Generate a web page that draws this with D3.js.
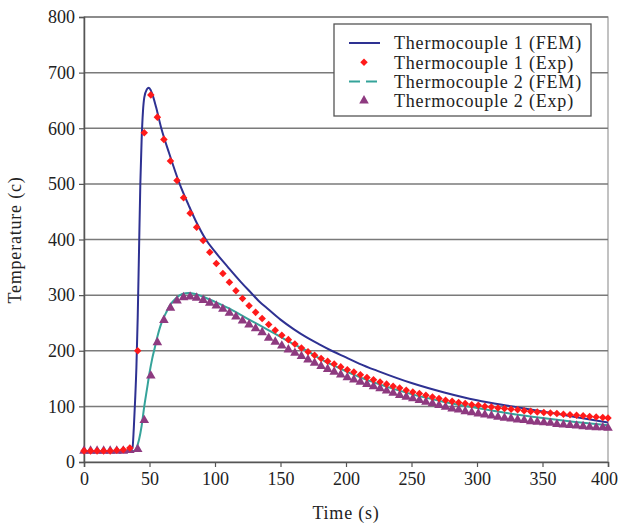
<!DOCTYPE html>
<html>
<head>
<meta charset="utf-8">
<script src="https://cdn.jsdelivr.net/npm/d3@7"></script>
<style>
  body { margin: 0; background: #fff; }
  text { font-family: "Liberation Serif", "Times New Roman", serif; fill: #222; }
</style>
</head>
<body>
<svg id="svg" width="618" height="527"></svg>
<script>
// thermocouple 1, FEM (time, temperature)
var tc1FemT = [0, 30, 35, 37, 38, 39, 40, 41, 42, 43, 44, 45, 46, 48, 49.5, 51, 53, 55, 59, 65, 73, 80, 86, 93, 100, 110, 120, 128, 134, 140, 150, 160, 170, 180, 189, 200, 210, 225, 250, 275, 300, 327, 350, 375, 400];
var tc1FemV = [20, 20, 21, 25, 60, 110, 170, 260, 380, 500, 580, 630, 655, 670, 673, 668, 655, 638, 600, 555, 500, 461, 430, 400, 378, 350, 323, 303, 288, 276, 256, 239, 224, 211, 200, 188, 177, 163, 142, 125, 111, 100, 91, 81, 71];

// thermocouple 2, FEM
var tc2FemT = [0, 38, 40, 42, 44, 46, 48, 50, 52, 54, 56, 58, 60, 63, 66, 70, 75, 80, 85, 90, 100, 110, 120, 130, 140, 150, 160, 170, 180, 190, 200, 210, 225, 250, 275, 300, 325, 350, 375, 400];
var tc2FemV = [20, 20, 25, 40, 65, 100, 130, 160, 185, 205, 225, 242, 255, 270, 283, 294, 302, 304, 302, 298, 288, 277, 264, 251, 238, 225, 212, 200, 186, 174, 163, 153, 140, 122, 108, 97, 87, 79, 72, 66];

// experiments, sampled every 5 s (first samples sit about 1 s after the round values)
var expT = [0, 5, 10, 15, 20, 25, 30, 35, 41, 46, 51, 56, 61, 66, 71, 76, 81, 86, 91, 96,
  101, 106, 111, 116, 121, 126, 131, 136, 141, 146, 151, 156, 161, 166, 171, 176, 181, 186, 191, 196,
  201, 206, 211, 216, 221, 226, 231, 236, 241, 246, 251, 256, 261, 266, 271, 276, 281, 286, 291, 296,
  301, 306, 311, 316, 321, 326, 331, 336, 341, 346, 351, 356, 361, 366, 371, 376, 381, 386, 391, 396, 400];
var tc1ExpV = [20, 20, 20, 20, 20, 21, 22, 25, 200, 592, 660, 620, 580, 541, 506, 475, 447, 422, 398, 377,
  357, 339, 323, 308, 294, 281, 269, 258, 247, 237, 228, 220, 212, 205, 198, 192, 186, 181, 176, 171,
  166, 162, 157, 152, 148, 144, 140, 136, 133, 129, 126, 123, 120, 117, 114, 111, 109, 107, 105, 103,
  102, 100, 99, 97, 96, 95, 94, 92, 91, 90, 89, 88, 87, 86, 85, 84, 83, 82, 81, 80, 79];
var tc2ExpV = [20, 20, 20, 20, 20, 20, 20, 21, 23, 75, 155, 215, 255, 277, 290, 296, 297, 295, 291, 286,
  281, 275, 268, 261, 254, 247, 240, 233, 223, 216, 209, 202, 196, 190, 184, 178, 172, 167, 162, 157,
  152, 148, 144, 140, 136, 132, 128, 124, 120, 117, 114, 111, 108, 105, 102, 99, 96, 94, 91, 89,
  87, 85, 83, 81, 79, 78, 76, 75, 73, 72, 71, 70, 68, 67, 66, 65, 64, 63, 62, 62, 61];

var xTicks = [0, 50, 100, 150, 200, 250, 300, 350, 400];
var yTicks = [0, 100, 200, 300, 400, 500, 600, 700, 800];
var legendNames = ["Thermocouple 1 (FEM)", "Thermocouple 1 (Exp)", "Thermocouple 2 (FEM)", "Thermocouple 2 (Exp)"];

var navy = "#2e3192", red = "#ff1a1a", teal = "#35a39a", plum = "#8e3a80";

var svg = d3.select("#svg");
var x = d3.scaleLinear().domain([0, 400]).range([84, 608]);
var y = d3.scaleLinear().domain([0, 800]).range([462, 17]);

// frame + grid
svg.append("rect")
  .attr("x", x(0)).attr("y", y(800))
  .attr("width", x(400) - x(0)).attr("height", y(0) - y(800))
  .attr("fill", "none").attr("stroke", "#999").attr("stroke-width", 1.2);

svg.append("g")
  .selectAll("line")
  .data(yTicks.slice(1))
  .join("line")
  .attr("x1", x(0)).attr("x2", x(400))
  .attr("y1", d => y(d)).attr("y2", d => y(d))
  .attr("stroke", "#7a7a7a").attr("stroke-width", 1.5);

// axes
var xAxis = svg.append("g")
  .attr("transform", "translate(0," + y(0) + ")")
  .call(d3.axisBottom(x).tickValues(xTicks).tickSize(5).tickPadding(5));
var yAxis = svg.append("g")
  .attr("transform", "translate(" + x(0) + ",0)")
  .call(d3.axisLeft(y).tickValues(yTicks).tickSize(5).tickPadding(4));

[xAxis, yAxis].forEach(function (g) {
  g.select(".domain").attr("stroke", "#555").attr("stroke-width", 1.5);
  g.selectAll(".tick line").attr("stroke", "#555").attr("stroke-width", 1.2);
  g.selectAll(".tick text")
    .style("font-family", "Liberation Serif, serif")
    .style("font-size", "18px").attr("fill", "#222");
});
// last label sits against the right edge, as in the original
xAxis.selectAll(".tick text").filter(d => d === 400).attr("dx", "-4px");

svg.append("text")
  .attr("x", (x(0) + x(400)) / 2).attr("y", 519)
  .attr("text-anchor", "middle")
  .style("font-size", "18px").style("letter-spacing", "0.8px")
  .text("Time (s)");

svg.append("text")
  .attr("transform", "translate(21," + 240 + ") rotate(-90)")
  .attr("text-anchor", "middle")
  .style("font-size", "18px").style("letter-spacing", "0.8px")
  .text("Temperature (c)");

// series
var line = d3.line()
  .x(d => x(d[0])).y(d => y(d[1]))
  .curve(d3.curveMonotoneX);

svg.append("path")
  .attr("d", line(tc1FemT.map((t, i) => [t, tc1FemV[i]])))
  .attr("fill", "none").attr("stroke", navy).attr("stroke-width", 2);

svg.append("path")
  .attr("d", line(tc2FemT.map((t, i) => [t, tc2FemV[i]])))
  .attr("fill", "none").attr("stroke", teal).attr("stroke-width", 2);

var tri = d3.symbol().type(d3.symbolTriangle).size(40);
var dia = d3.symbol().type(d3.symbolDiamond2).size(36);

svg.append("g")
  .selectAll("path")
  .data(expT.map((t, i) => [t, tc2ExpV[i]]))
  .join("path")
  .attr("transform", d => "translate(" + x(d[0]) + "," + y(d[1]) + ")")
  .attr("d", tri).attr("fill", plum);

svg.append("g")
  .selectAll("path")
  .data(expT.map((t, i) => [t, tc1ExpV[i]]))
  .join("path")
  .attr("transform", d => "translate(" + x(d[0]) + "," + y(d[1]) + ")")
  .attr("d", dia).attr("fill", red);

// legend
var lg = svg.append("g").attr("transform", "translate(334,24)");
lg.append("rect")
  .attr("width", 257).attr("height", 92)
  .attr("fill", "#fff").attr("stroke", "#555").attr("stroke-width", 1.3);

var rows = lg.selectAll("g")
  .data(legendNames)
  .join("g")
  .attr("transform", (d, i) => "translate(0," + (19 + i * 19.2) + ")");

rows.each(function (d, i) {
  var g = d3.select(this);
  if (i === 0) {
    g.append("line").attr("x1", 15).attr("x2", 46)
      .attr("stroke", navy).attr("stroke-width", 2);
  } else if (i === 2) {
    g.append("line").attr("x1", 15).attr("x2", 46)
      .attr("stroke", teal).attr("stroke-width", 2)
      .attr("stroke-dasharray", "11,6");
  } else {
    g.append("path").attr("transform", "translate(30,0)")
      .attr("d", i === 1 ? dia : tri).attr("fill", i === 1 ? red : plum);
  }
  g.append("text")
    .attr("x", 60).attr("dy", "0.35em")
    .style("font-size", "18px").style("letter-spacing", "0.8px")
    .text(d);
});
</script>
</body>
</html>
